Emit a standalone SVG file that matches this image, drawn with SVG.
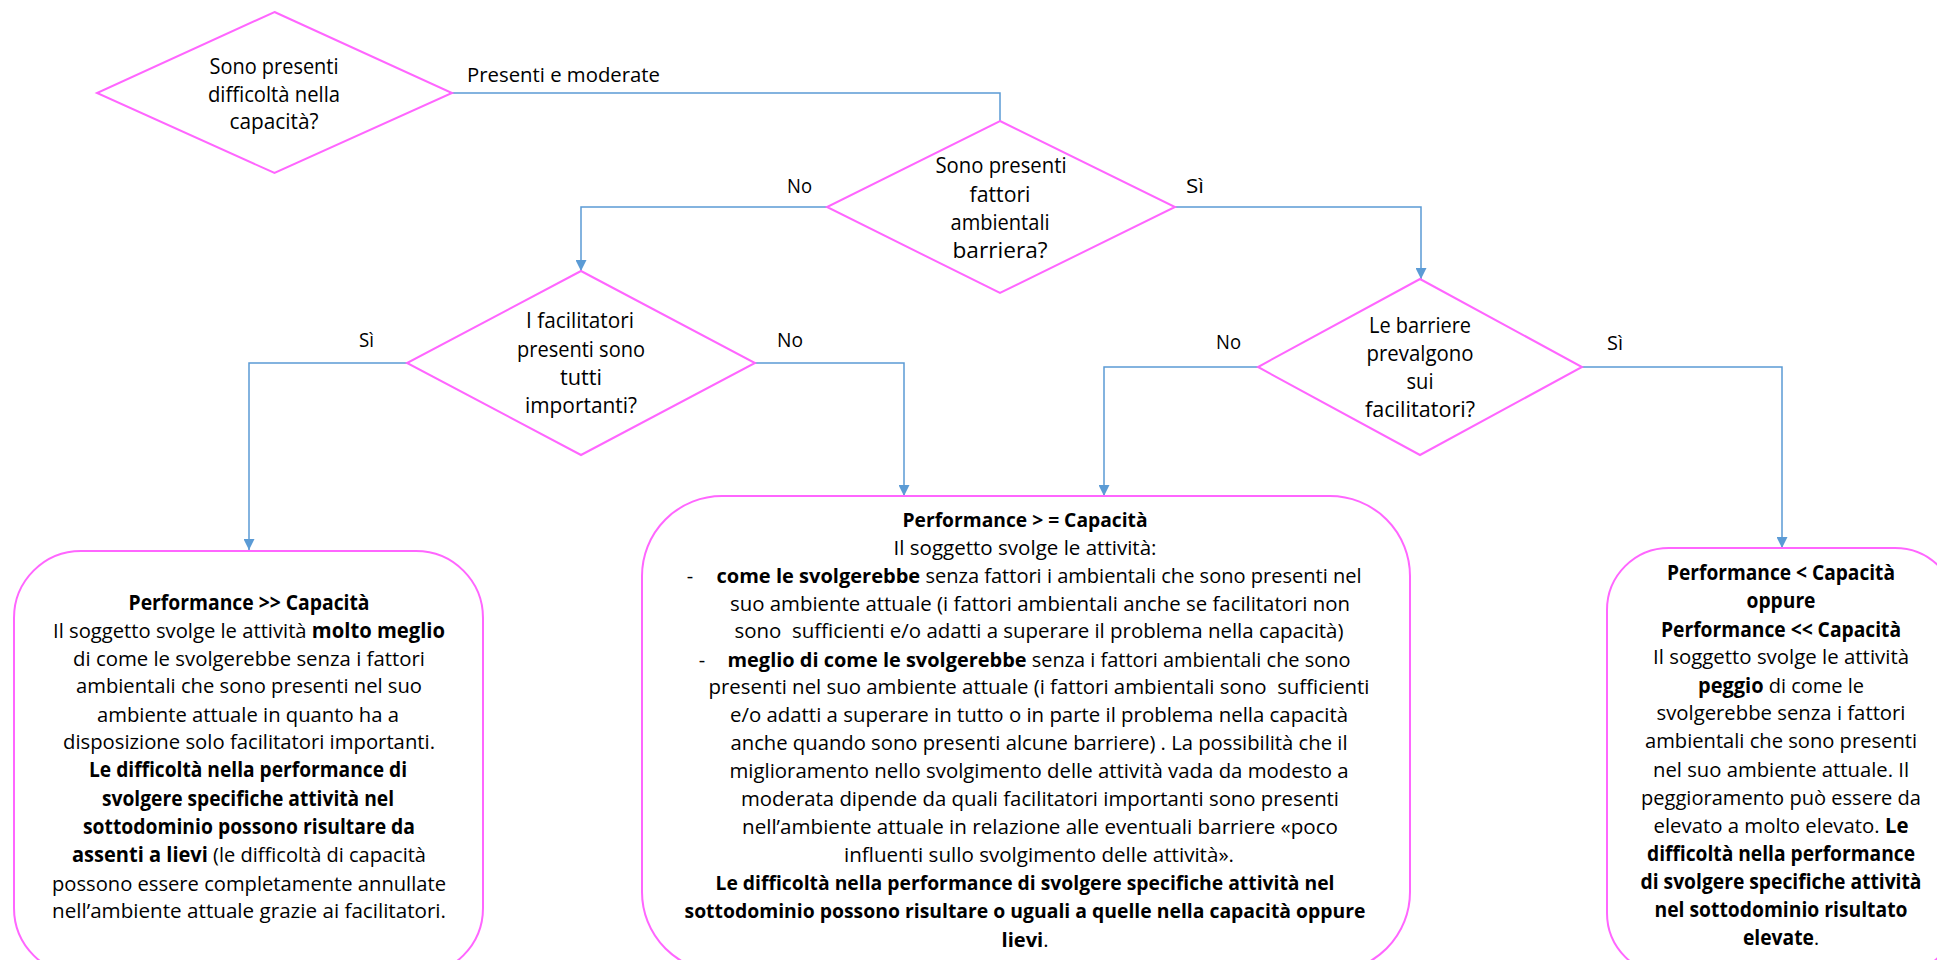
<svg xmlns="http://www.w3.org/2000/svg" width="1937" height="960" viewBox="0 0 1937 960">
<defs>
<marker id="arr" viewBox="0 0 10 10" refX="10" refY="5" markerWidth="11" markerHeight="11" markerUnits="userSpaceOnUse" orient="auto"><path d="M0,0 L10,5 L0,10 z" fill="#5B9BD5"/></marker>
<style>
.shape{fill:#fff;stroke:#FF66FF;stroke-width:2}
.conn{fill:none;stroke:#5B9BD5;stroke-width:1.5}
.arrow{marker-end:url(#arr)}
text{font-family:"Open Sans","Noto Sans",sans-serif;fill:#000}
.q{font-size:21px;text-anchor:middle}
.lbl{font-size:20.5px}
.b{font-size:20.5px;text-anchor:middle}
.m{font-size:20px;text-anchor:middle}
.bd{font-weight:bold}
</style>
</defs>
<rect width="1937" height="960" fill="#fff"/>
<g id="connectors">
<path class="conn" d="M452,93 H1000 V121"/>
<path class="conn arrow" d="M827,207 H581 V271"/>
<path class="conn arrow" d="M1175,207 H1421 V279"/>
<path class="conn arrow" d="M407,363 H249 V550"/>
<path class="conn arrow" d="M755,363 H904 V496"/>
<path class="conn arrow" d="M1258,367 H1104 V496"/>
<path class="conn arrow" d="M1582,367 H1782 V548"/>
<text class="lbl" x="467" y="82" textLength="193" lengthAdjust="spacingAndGlyphs">Presenti e moderate</text>
<text class="lbl" x="787" y="193" textLength="25" lengthAdjust="spacingAndGlyphs">No</text>
<text class="lbl" x="1186" y="193" textLength="18" lengthAdjust="spacingAndGlyphs">Sì</text>
<text class="lbl" x="359" y="347" textLength="15" lengthAdjust="spacingAndGlyphs">Sì</text>
<text class="lbl" x="777" y="347" textLength="26" lengthAdjust="spacingAndGlyphs">No</text>
<text class="lbl" x="1216" y="349" textLength="25" lengthAdjust="spacingAndGlyphs">No</text>
<text class="lbl" x="1607" y="350" textLength="16" lengthAdjust="spacingAndGlyphs">Sì</text>
</g>
<g id="d1">
<polygon class="shape" points="274.5,12 452,93 274.5,173 97,93"/>
<text class="q" x="274" y="74" textLength="129" lengthAdjust="spacingAndGlyphs">Sono presenti</text>
<text class="q" x="274" y="102" textLength="132" lengthAdjust="spacingAndGlyphs">difficoltà nella</text>
<text class="q" x="274" y="129" textLength="89" lengthAdjust="spacingAndGlyphs">capacità?</text>
</g>
<g id="d2">
<polygon class="shape" points="1000,121 1175,207 1000,293 827,207"/>
<text class="q" x="1001" y="173" textLength="131" lengthAdjust="spacingAndGlyphs">Sono presenti</text>
<text class="q" x="1000" y="202" textLength="61" lengthAdjust="spacingAndGlyphs">fattori</text>
<text class="q" x="1000" y="230" textLength="99" lengthAdjust="spacingAndGlyphs">ambientali</text>
<text class="q" x="1000" y="258" textLength="95" lengthAdjust="spacingAndGlyphs">barriera?</text>
</g>
<g id="d3">
<polygon class="shape" points="581,271 755,363 581,455 407,363"/>
<text class="q" x="580" y="328" textLength="108" lengthAdjust="spacingAndGlyphs">I facilitatori</text>
<text class="q" x="581" y="357" textLength="128" lengthAdjust="spacingAndGlyphs">presenti sono</text>
<text class="q" x="581" y="385" textLength="42" lengthAdjust="spacingAndGlyphs">tutti</text>
<text class="q" x="581" y="413" textLength="112" lengthAdjust="spacingAndGlyphs">importanti?</text>
</g>
<g id="d4">
<polygon class="shape" points="1420,279 1582,367 1420,455 1258,367"/>
<text class="q" x="1420" y="333" textLength="102" lengthAdjust="spacingAndGlyphs">Le barriere</text>
<text class="q" x="1420" y="361" textLength="107" lengthAdjust="spacingAndGlyphs">prevalgono</text>
<text class="q" x="1420" y="389" textLength="27" lengthAdjust="spacingAndGlyphs">sui</text>
<text class="q" x="1420" y="417" textLength="110" lengthAdjust="spacingAndGlyphs">facilitatori?</text>
</g>
<g id="box-left">
<rect class="shape" x="14" y="551" width="469" height="424" rx="67" ry="67"/>
<text class="b bd" x="249" y="610" textLength="241" lengthAdjust="spacingAndGlyphs">Performance &gt;&gt; Capacità</text>
<text class="b" x="249" y="638" textLength="392" lengthAdjust="spacingAndGlyphs">Il soggetto svolge le attività <tspan class="bd">molto meglio</tspan></text>
<text class="b" x="249" y="666" textLength="352" lengthAdjust="spacingAndGlyphs">di come le svolgerebbe senza i fattori</text>
<text class="b" x="249" y="693" textLength="346" lengthAdjust="spacingAndGlyphs">ambientali che sono presenti nel suo</text>
<text class="b" x="248" y="722" textLength="302" lengthAdjust="spacingAndGlyphs">ambiente attuale in quanto ha a</text>
<text class="b" x="249" y="749" textLength="372" lengthAdjust="spacingAndGlyphs">disposizione solo facilitatori importanti.</text>
<text class="b bd" x="248" y="777" textLength="318" lengthAdjust="spacingAndGlyphs">Le difficoltà nella performance di</text>
<text class="b bd" x="248" y="806" textLength="292" lengthAdjust="spacingAndGlyphs">svolgere specifiche attività nel</text>
<text class="b bd" x="249" y="834" textLength="332" lengthAdjust="spacingAndGlyphs">sottodominio possono risultare da</text>
<text class="b" x="249" y="862" textLength="354" lengthAdjust="spacingAndGlyphs"><tspan class="bd">assenti a lievi</tspan> (le difficoltà di capacità</text>
<text class="b" x="249" y="891" textLength="394" lengthAdjust="spacingAndGlyphs">possono essere completamente annullate</text>
<text class="b" x="249" y="918" textLength="394" lengthAdjust="spacingAndGlyphs">nell’ambiente attuale grazie ai facilitatori.</text>
</g>
<g id="box-middle">
<rect class="shape" x="642" y="496" width="768" height="476" rx="80" ry="80"/>
<text class="m bd" x="1025" y="527" textLength="245" lengthAdjust="spacingAndGlyphs">Performance &gt; = Capacità</text>
<text class="m" x="1025" y="555" textLength="263" lengthAdjust="spacingAndGlyphs">Il soggetto svolge le attività:</text>
<text class="m" x="690" y="583">-</text>
<text class="m" x="1039" y="583" textLength="645" lengthAdjust="spacingAndGlyphs"><tspan class="bd">come le svolgerebbe</tspan> senza fattori i ambientali che sono presenti nel</text>
<text class="m" x="1040" y="611" textLength="620" lengthAdjust="spacingAndGlyphs">suo ambiente attuale (i fattori ambientali anche se facilitatori non</text>
<text class="m" x="1039" y="638" textLength="609" lengthAdjust="spacingAndGlyphs" xml:space="preserve">sono  sufficienti e/o adatti a superare il problema nella capacità)</text>
<text class="m" x="702" y="667">-</text>
<text class="m" x="1039" y="667" textLength="623" lengthAdjust="spacingAndGlyphs"><tspan class="bd">meglio di come le svolgerebbe</tspan> senza i fattori ambientali che sono</text>
<text class="m" x="1039" y="694" textLength="661" lengthAdjust="spacingAndGlyphs" xml:space="preserve">presenti nel suo ambiente attuale (i fattori ambientali sono  sufficienti</text>
<text class="m" x="1039" y="722" textLength="618" lengthAdjust="spacingAndGlyphs">e/o adatti a superare in tutto o in parte il problema nella capacità</text>
<text class="m" x="1039" y="750" textLength="617" lengthAdjust="spacingAndGlyphs">anche quando sono presenti alcune barriere) . La possibilità che il</text>
<text class="m" x="1039" y="778" textLength="619" lengthAdjust="spacingAndGlyphs">miglioramento nello svolgimento delle attività vada da modesto a</text>
<text class="m" x="1040" y="806" textLength="598" lengthAdjust="spacingAndGlyphs">moderata dipende da quali facilitatori importanti sono presenti</text>
<text class="m" x="1040" y="834" textLength="596" lengthAdjust="spacingAndGlyphs">nell’ambiente attuale in relazione alle eventuali barriere «poco</text>
<text class="m" x="1039" y="862" textLength="390" lengthAdjust="spacingAndGlyphs">influenti sullo svolgimento delle attività».</text>
<text class="m bd" x="1025" y="890" textLength="619" lengthAdjust="spacingAndGlyphs">Le difficoltà nella performance di svolgere specifiche attività nel</text>
<text class="m bd" x="1025" y="918" textLength="681" lengthAdjust="spacingAndGlyphs">sottodominio possono risultare o uguali a quelle nella capacità oppure</text>
<text class="m" x="1025" y="947" textLength="47" lengthAdjust="spacingAndGlyphs"><tspan class="bd">lievi</tspan>.</text>
</g>
<g id="box-right">
<rect class="shape" x="1607" y="548" width="350" height="427" rx="62" ry="62"/>
<text class="b bd" x="1781" y="580" textLength="228" lengthAdjust="spacingAndGlyphs">Performance &lt; Capacità</text>
<text class="b bd" x="1781" y="608" textLength="69" lengthAdjust="spacingAndGlyphs">oppure</text>
<text class="b bd" x="1781" y="637" textLength="240" lengthAdjust="spacingAndGlyphs">Performance &lt;&lt; Capacità</text>
<text class="b" x="1781" y="664" textLength="256" lengthAdjust="spacingAndGlyphs">Il soggetto svolge le attività</text>
<text class="b" x="1781" y="693" textLength="166" lengthAdjust="spacingAndGlyphs"><tspan class="bd">peggio</tspan> di come le</text>
<text class="b" x="1781" y="720" textLength="249" lengthAdjust="spacingAndGlyphs">svolgerebbe senza i fattori</text>
<text class="b" x="1781" y="748" textLength="272" lengthAdjust="spacingAndGlyphs">ambientali che sono presenti</text>
<text class="b" x="1781" y="777" textLength="256" lengthAdjust="spacingAndGlyphs">nel suo ambiente attuale. Il</text>
<text class="b" x="1781" y="805" textLength="280" lengthAdjust="spacingAndGlyphs">peggioramento può essere da</text>
<text class="b" x="1781" y="833" textLength="255" lengthAdjust="spacingAndGlyphs">elevato a molto elevato. <tspan class="bd">Le</tspan></text>
<text class="b bd" x="1781" y="861" textLength="268" lengthAdjust="spacingAndGlyphs">difficoltà nella performance</text>
<text class="b bd" x="1781" y="889" textLength="281" lengthAdjust="spacingAndGlyphs">di svolgere specifiche attività</text>
<text class="b bd" x="1781" y="917" textLength="253" lengthAdjust="spacingAndGlyphs">nel sottodominio risultato</text>
<text class="b" x="1781" y="945" textLength="76" lengthAdjust="spacingAndGlyphs"><tspan class="bd">elevate</tspan>.</text>
</g>
</svg>
